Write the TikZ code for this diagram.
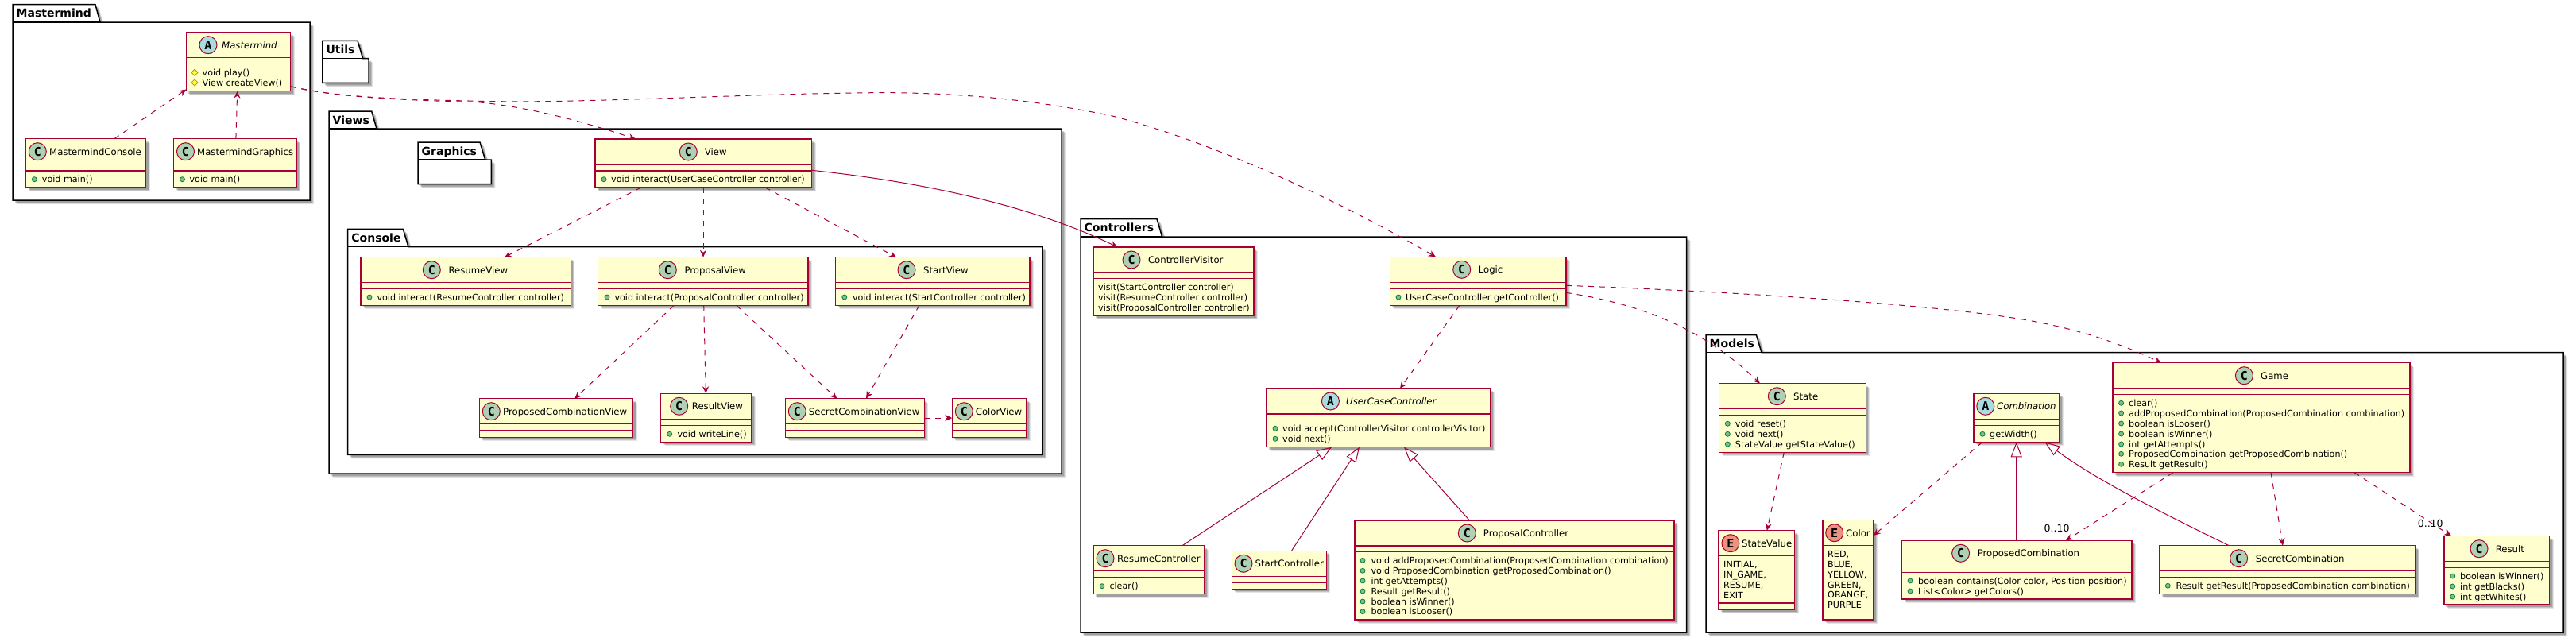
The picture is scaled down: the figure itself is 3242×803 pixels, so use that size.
\documentclass[tikz,border=0pt]{standalone}
\usepackage{fontspec}
\setmainfont{DejaVu Sans}
\newfontfamily\letterfont{DejaVu Sans Mono}
\usetikzlibrary{arrows.meta,shadows,shapes.geometric}
\definecolor{umlred}{HTML}{A80036}
\definecolor{umlfill}{HTML}{FEFECE}
\definecolor{circC}{HTML}{ADD1B2}
\definecolor{circA}{HTML}{A9DCDF}
\definecolor{circE}{HTML}{EB937F}
\definecolor{pubfill}{HTML}{84BE84}
\definecolor{publine}{HTML}{038048}
\definecolor{profill}{HTML}{FFFF44}
\definecolor{proline}{HTML}{B38D22}
\tikzset{
  softshadow/.style={
    general shadow={shadow xshift=5pt,shadow yshift=-5pt,fill=black,opacity=.10},
    general shadow={shadow xshift=4pt,shadow yshift=-4pt,fill=black,opacity=.14},
    general shadow={shadow xshift=3pt,shadow yshift=-3pt,fill=black,opacity=.18}},
  classbox/.style={rectangle,draw=umlred,fill=umlfill,line width=1.5pt,inner sep=0pt,outer sep=0pt,anchor=north west,softshadow},
  sepline/.style={draw=umlred,line width=1.5pt},
  pkgbox/.style={draw=black,fill=white,line width=1.5pt,line join=miter,softshadow},
  pkgline/.style={draw=black,line width=1.5pt},
  pkgtitle/.style={anchor=base west,inner sep=0pt,font=\fontsize{14}{16}\selectfont\bfseries},
  circ/.style={circle,draw=umlred,line width=1pt,minimum size=22pt,inner sep=0pt,font=\fontsize{15}{15}\selectfont\letterfont\bfseries},
  titletext/.style={anchor=base west,inner sep=0pt,font=\fontsize{11.7}{13}\selectfont},
  membertext/.style={anchor=base west,inner sep=0pt,font=\fontsize{11.15}{13}\selectfont},
  pubdot/.style={circle,draw=publine,fill=pubfill,line width=.8pt,minimum size=6pt,inner sep=0pt},
  prodot/.style={diamond,draw=proline,fill=profill,line width=.8pt,minimum size=8.5pt,inner sep=0pt},
  depline/.style={draw=umlred,line width=1pt,dash pattern=on 7pt off 7pt,-{Stealth[length=9pt,width=8pt,inset=3pt]}},
  assocline/.style={draw=umlred,line width=1pt,-{Stealth[length=9pt,width=8pt,inset=3pt]}},
  inhline/.style={draw=umlred,line width=1pt,-{Triangle[open,length=19pt,width=14pt]}},
  multtext/.style={anchor=west,inner sep=0pt,font=\fontsize{12.5}{14}\selectfont},
}
\newcounter{itemno}
\newcommand\umlpkg[9]{% id x1 tabtop tabr1 tabr2 top x2 bot title
  \path[pkgbox] (#2,#6) -- (#2,#3) -- (#4,#3) -- (#5,#6) -- (#7,#6) -- (#7,#8) -- (#2,#8) -- cycle;
  \draw[pkgline] (#2,#6) -- (#5,#6);
  \node[pkgtitle] (#1) at (#2+4.5,#3+16) {#9};
}
\newcommand\classbox[6]{% id x1 y1 x2 y2 second-rule-y
  \pgfmathsetlengthmacro\bw{#4-#2}\pgfmathsetlengthmacro\bh{#5-#3}
  \xdef\cury{#3}
  \node[classbox,minimum width=\bw,minimum height=\bh] (#1) at (#2,#3) {};
  \draw[sepline] (#2,#3+32) -- (#4,#3+32);
  \draw[sepline] (#2,#6) -- (#4,#6);
}
\newcommand\fontC{}\newcommand\fontE{}\newcommand\fontA{\itshape}
\newcommand\classhead[5]{% id letter cx tx title
  \node[circ,fill=circ#2] (#1-c) at (#3,\cury+16) {#2};
  \node[titletext] (#1-t) at (#4,\cury+20.5) {\csname font#2\endcsname #5};
}
\newcommand\memb[5]{% dotstyle dotx textx y text
  \stepcounter{itemno}
  \node[#1] (d\theitemno) at (#2,#4) {};
  \node[membertext] (m\theitemno) at (#3,#4+4) {#5};
}
\newcommand\plain[3]{% textx y text
  \stepcounter{itemno}
  \node[membertext] (m\theitemno) at (#1,#2+4) {#3};
}
\begin{document}
\begin{tikzpicture}[x=1pt,y=-1pt]
\useasboundingbox (0,0) rectangle (3242,803);
% packages
\umlpkg{pMastermind}{16}{5.7}{120}{126}{28}{390}{252}{Mastermind}
\umlpkg{pUtils}{405.8}{51.3}{450}{456.7}{73.7}{464}{104.3}{Utils}
\umlpkg{pViews}{414}{140}{467.7}{474}{162}{1336}{596}{Views}
\umlpkg{pGraphics}{526}{179}{604}{610.7}{201}{618.3}{231.7}{Graphics}
\umlpkg{pConsole}{437.7}{288.3}{507.3}{514}{310.7}{1312}{572.3}{Console}
\umlpkg{pControllers}{1360}{275.7}{1456}{1462.6}{298}{2122.5}{796}{Controllers}
\umlpkg{pModels}{2147}{421.7}{2210.4}{2217}{443.7}{3226}{796}{Models}
% Mastermind
\classbox{mm}{234.4}{40.7}{365.6}{114.7}{80.7}
\classhead{mm}{A}{262}{279}{Mastermind}
\memb{prodot}{245}{254.5}{91.3}{void play()}
\memb{prodot}{245}{254.5}{104}{View createView()}
\classbox{mc}{32.6}{174.7}{183.5}{235.7}{215}
\classhead{mc}{C}{47.3}{62}{MastermindConsole}
\memb{pubdot}{43.3}{52.7}{225.7}{void main()}
\classbox{mg}{218.7}{174.7}{373}{235.7}{215}
\classhead{mg}{C}{233.5}{248}{MastermindGraphics}
\memb{pubdot}{229.5}{238.4}{225.7}{void main()}
% Views
\classbox{view}{749}{175}{1021.7}{236}{215}
\classhead{view}{C}{866.3}{886.7}{View}
\memb{pubdot}{760}{769}{225.7}{void interact(UserCaseController controller)}
\classbox{rv}{454}{323.7}{718.3}{384.3}{363.5}
\classhead{rv}{C}{543.3}{564.3}{ResumeView}
\memb{pubdot}{465}{474.3}{374}{void interact(ResumeController controller)}
\classbox{pv}{752.7}{323.7}{1017}{384.3}{363.5}
\classhead{pv}{C}{840.3}{861.3}{ProposalView}
\memb{pubdot}{764}{773.3}{374}{void interact(ProposalController controller)}
\classbox{sv}{1051.7}{323.7}{1296}{384.3}{363.5}
\classhead{sv}{C}{1141}{1162}{StartView}
\memb{pubdot}{1062.8}{1072.8}{374}{void interact(StartController controller)}
\classbox{pcv}{603.3}{501.7}{796.7}{550.3}{542}
\classhead{pcv}{C}{618.3}{633}{ProposedCombinationView}
\classbox{resv}{831.7}{495.3}{946}{556.3}{535.3}
\classhead{resv}{C}{854.7}{870.7}{ResultView}
\memb{pubdot}{842.7}{852.3}{546.3}{void writeLine()}
\classbox{scv}{988.3}{501.7}{1163.3}{550.3}{542}
\classhead{scv}{C}{1003.3}{1017.7}{SecretCombinationView}
\classbox{colv}{1198.3}{501.7}{1291.7}{550.3}{542}
\classhead{colv}{C}{1213.3}{1227.7}{ColorView}
% Controllers
\classbox{cv}{1376}{311}{1578}{397.3}{350.7}
\classhead{cv}{C}{1424}{1444.8}{ControllerVisitor}
\plain{1382}{361.3}{visit(StartController controller)}
\plain{1382}{374}{visit(ResumeController controller)}
\plain{1382}{387}{visit(ProposalController controller)}
\classbox{logic}{1749.4}{323.3}{1970.8}{384.3}{363.3}
\classhead{logic}{C}{1839.7}{1860.6}{Logic}
\memb{pubdot}{1760}{1768.8}{374}{UserCaseController getController()}
\classbox{ucc}{1593.8}{489}{1876}{562.7}{528.7}
\classhead{ucc}{A}{1674.4}{1694}{UserCaseController}
\memb{pubdot}{1605}{1614}{539.3}{void accept(ControllerVisitor controllerVisitor)}
\memb{pubdot}{1605}{1614}{552.3}{void next()}
\classbox{resc}{1376.4}{686.7}{1515.7}{747.7}{727}
\classhead{resc}{C}{1391}{1406}{ResumeController}
\memb{pubdot}{1387}{1396.3}{737.7}{clear()}
\classbox{stc}{1550.4}{693.3}{1669.3}{741.3}{733.3}
\classhead{stc}{C}{1565}{1579.5}{StartController}
\classbox{prc}{1705}{655}{2107}{780}{694.7}
\classhead{prc}{C}{1846.3}{1866.7}{ProposalController}
\memb{pubdot}{1715}{1725.4}{705.3}{void addProposedCombination(ProposedCombination combination)}
\memb{pubdot}{1715}{1725.4}{718.3}{void ProposedCombination getProposedCombination()}
\memb{pubdot}{1715}{1725.4}{731}{int getAttempts()}
\memb{pubdot}{1715}{1725.4}{744}{Result getResult()}
\memb{pubdot}{1715}{1725.4}{757}{boolean isWinner()}
\memb{pubdot}{1715}{1725.4}{769.7}{boolean isLooser()}
% Models
\classbox{state}{2163.6}{482.7}{2348.4}{569.3}{523}
\classhead{state}{C}{2236.3}{2257}{State}
\memb{pubdot}{2174.3}{2183.7}{533.3}{void reset()}
\memb{pubdot}{2174.3}{2183.7}{546.3}{void next()}
\memb{pubdot}{2174.3}{2183.7}{559}{StateValue getStateValue()}
\classbox{stv}{2163}{667.7}{2258.7}{767.3}{759}
\classhead{stv}{E}{2177.9}{2192}{StateValue}
\plain{2169}{710.7}{INITIAL,}
\plain{2169}{723.5}{IN\_GAME,}
\plain{2169}{736}{RESUME,}
\plain{2169}{749}{EXIT}
\classbox{color}{2294}{654.7}{2357.8}{780}{771.7}
\classhead{color}{E}{2308.7}{2323}{Color}
\plain{2300}{697.3}{RED,}
\plain{2300}{710}{BLUE,}
\plain{2300}{723}{YELLOW,}
\plain{2300}{736}{GREEN,}
\plain{2300}{748.7}{ORANGE,}
\plain{2300}{761.3}{PURPLE}
\classbox{comb}{2484}{495.3}{2592}{556.3}{535.3}
\classhead{comb}{A}{2498.8}{2513}{Combination}
\memb{pubdot}{2495}{2504}{546.3}{getWidth()}
\classbox{pcomb}{2393.5}{680.3}{2682.8}{754}{720.3}
\classhead{pcomb}{C}{2467.6}{2488.6}{ProposedCombination}
\memb{pubdot}{2404}{2414}{731}{boolean contains(Color color, Position position)}
\memb{pubdot}{2404}{2414}{744}{List<Color> getColors()}
\classbox{game}{2659}{456.7}{3033}{594.7}{496.7}
\classhead{game}{C}{2824.4}{2845}{Game}
\memb{pubdot}{2669.6}{2679}{507.3}{clear()}
\memb{pubdot}{2669.6}{2679}{520}{addProposedCombination(ProposedCombination combination)}
\memb{pubdot}{2669.6}{2679}{533}{boolean isLooser()}
\memb{pubdot}{2669.6}{2679}{546}{boolean isWinner()}
\memb{pubdot}{2669.6}{2679}{559}{int getAttempts()}
\memb{pubdot}{2669.6}{2679}{571.3}{ProposedCombination getProposedCombination()}
\memb{pubdot}{2669.6}{2679}{584.3}{Result getResult()}
\classbox{scomb}{2718}{686.7}{3040}{747.7}{727}
\classhead{scomb}{C}{2817.6}{2838.6}{SecretCombination}
\memb{pubdot}{2728.3}{2738.3}{737.3}{Result getResult(ProposedCombination combination)}
\classbox{result}{3076}{674.7}{3208.5}{760.7}{714.3}
\classhead{result}{C}{3120}{3140.6}{Result}
\memb{pubdot}{3086.7}{3096}{725}{boolean isWinner()}
\memb{pubdot}{3086.7}{3096}{738}{int getBlacks()}
\memb{pubdot}{3086.7}{3096}{751}{int getWhites()}
% connectors
\draw[depline] ([xshift=111.2]mc.north west) -- ([yshift=2.2]mm.south west);
\draw[depline] ([xshift=78.2]mg.north west) -- ([xshift=64.3]mm.south west);
\draw[depline] ([yshift=-68]mm.north east) .. controls (420,122) and (500,126) .. (600,128.5) .. controls (670,135) and (740,155) .. ([xshift=51]view.north west);
\draw[depline] ([yshift=-68]mm.north east) .. controls (420,122) and (500,126) .. (650,128) .. controls (800,127) and (950,118) .. (1100,116.7) .. controls (1200,116) and (1300,125) .. (1400,146) .. controls (1530,180) and (1680,250) .. ([xshift=57.6]logic.north west);
\draw[assocline] ([yshift=-39.3]view.north east) .. controls (1150,228) and (1290,255) .. ([xshift=30.5]cv.north west);
\draw[depline] ([xshift=57.7]view.south west) -- ([xshift=181]rv.north west);
\draw[depline] ([xshift=136]view.south west) -- ([xshift=132.3]pv.north west);
\draw[depline] ([xshift=214]view.south west) -- ([xshift=76.3]sv.north west);
\draw[depline] ([xshift=95.6]pv.south west) -- ([xshift=120]pcv.north west);
\draw[depline] ([xshift=133]pv.south west) -- ([xshift=56.6]resv.north west);
\draw[depline] ([xshift=174]pv.south west) -- ([xshift=65]scv.north west);
\draw[depline] ([xshift=105.3]sv.south west) -- ([xshift=101.7]scv.north west);
\draw[depline] ([yshift=-24.3]scv.north east) -- ([yshift=-24.3]colv.north west);
\draw[depline] ([xshift=87.6]logic.south west) -- ([xshift=168.2]ucc.north west);
\draw[inhline] ([xshift=111.6]resc.north west) -- ([xshift=82.2]ucc.south west);
\draw[inhline] ([xshift=75]stc.north west) -- ([xshift=117.2]ucc.south west);
\draw[inhline] ([xshift=144.4]prc.north west) -- ([xshift=173.2]ucc.south west);
\draw[depline] ([yshift=-45]logic.north east) .. controls (2060,382) and (2140,410) .. ([xshift=51.4]state.north west);
\draw[depline] ([yshift=-36]logic.north east) .. controls (2150,366) and (2400,380) .. (2533,400) .. controls (2600,410) and (2660,428) .. ([xshift=61]game.north west);
\draw[depline] ([xshift=81.7]state.south west) -- ([xshift=60.8]stv.north west);
\draw[depline] ([xshift=11]comb.south west) -- ([yshift=-19.3]color.north east);
\draw[inhline] ([xshift=144.2]pcomb.north west) -- ([xshift=53.7]comb.south west);
\draw[inhline] ([xshift=87.3]scomb.north west) .. controls (2720,645) and (2640,605) .. ([xshift=89.4]comb.south west);
\draw[depline] ([xshift=76]game.south west) -- ([xshift=206.5]pcomb.north west);
\draw[depline] ([xshift=199]game.south west) -- ([xshift=155]scomb.north west);
\draw[depline] ([xshift=304]game.south west) -- ([xshift=9]result.north west);
\node[multtext] (mult1) at (2572.5,665) {0..10};
\node[multtext] (mult2) at (3042.6,659) {0..10};
\end{tikzpicture}
\end{document}
